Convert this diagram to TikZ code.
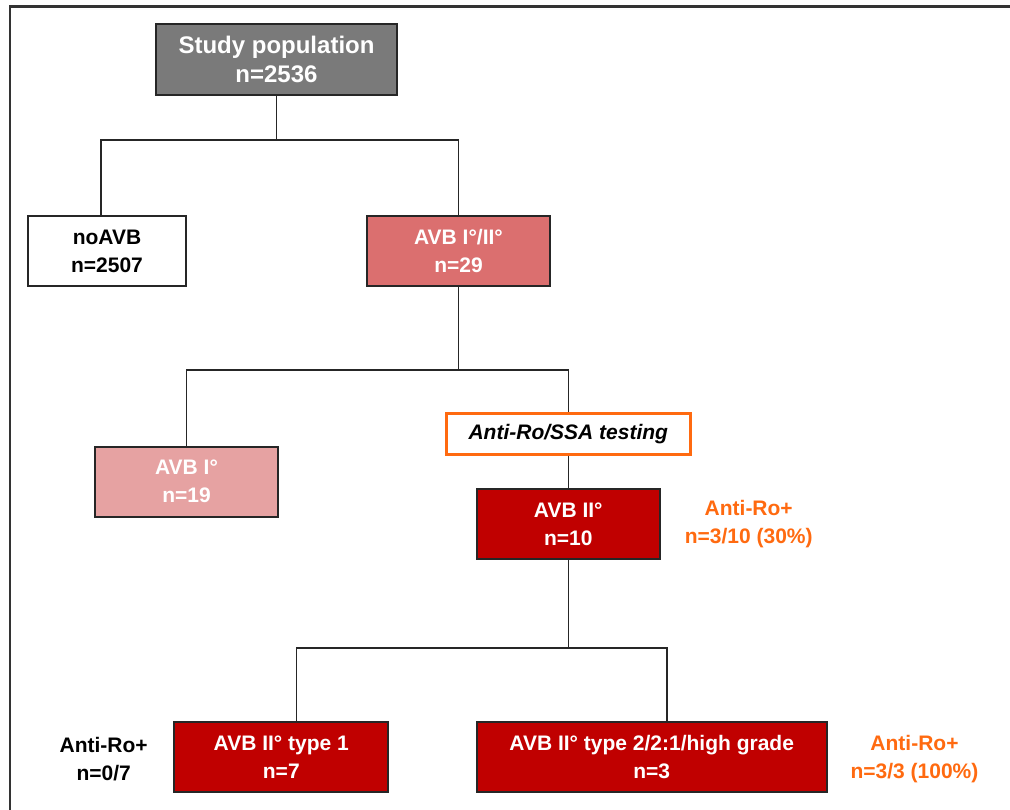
\documentclass[tikz,border=0pt]{standalone}
\usepackage{fontspec}
\setmainfont{Liberation Sans}

\definecolor{popgray}{HTML}{7A7A7A}
\definecolor{avbonetwo}{HTML}{DB6F6F}
\definecolor{avbone}{HTML}{E6A2A2}
\definecolor{avbred}{HTML}{C00000}
\definecolor{roorange}{HTML}{FF6A10}

\tikzset{
  box/.style={draw=black!85,line width=1pt,inner sep=0pt,align=center,
    minimum width=91.5pt,minimum height=35pt,
    font=\bfseries\fontsize{10.5}{14}\selectfont},
  testbox/.style={draw=roorange,line width=1.5pt,fill=white,inner sep=0pt,
    minimum width=121.8pt,minimum height=20.5pt,
    font=\bfseries\itshape\fontsize{10.5}{14}\selectfont},
  note/.style={align=center,inner sep=0pt,
    font=\bfseries\fontsize{10.5}{14}\selectfont},
  link/.style={line width=0.8pt,black!85}
}

\begin{document}
\begin{tikzpicture}[x=0.5pt,y=-0.5pt]
  \useasboundingbox (0,0) rectangle (1010,809);
  % frame, cut by the page edge
  \draw[line width=1.2pt,black!80] (10,830) |- (1030,6.5);

  \node[box,fill=popgray,text=white,minimum width=120.5pt,minimum height=35.5pt,
    font=\bfseries\fontsize{12}{14.5}\selectfont] (study) at (276.5,59.5) {Study population\\n=2536};
  \node[box,fill=white,minimum width=79pt] (noavb) at (107,251) {noAVB\\n=2507};
  \node[box,fill=avbonetwo,text=white] (avb12) at (458.5,251) {AVB I°/II°\\n=29};
  \node[box,fill=avbone,text=white] (avb1) at (186.5,481.5) {AVB I°\\n=19};
  \node[testbox] (test) at (568.3,433.7) {Anti-Ro/SSA testing};
  \node[box,fill=avbred,text=white] (avb2) at (568.3,524) {AVB II°\\n=10};
  \node[note,text=roorange] (ro2) at (748.7,524) {Anti-Ro+\\n=3/10 (30\%)};
  \node[box,fill=avbred,text=white,minimum width=107pt] (type1) at (281.3,757) {AVB II° type 1\\n=7};
  \node[box,fill=avbred,text=white,minimum width=175pt] (type2) at (651.7,757) {AVB II° type 2/2:1/high grade\\n=3};
  \node[note] (ro1) at (103.7,759) {Anti-Ro+\\n=0/7};
  \node[note,text=roorange] (ro3) at (914.5,759) {Anti-Ro+\\n=3/3 (100\%)};

  % branches
  \coordinate (b1) at (276.5,140);
  \coordinate (b2) at (458.5,370);
  \coordinate (b3) at (568.3,648);
  \draw[link] (study.south) -- (b1);
  \draw[link] ([xshift=-3pt]noavb.north) |- (b1) -| (avb12.north);
  \draw[link] (avb12.south) -- (b2);
  \draw[link] (avb1.north) |- (b2) -| (test.north);
  \draw[link] (test.south) -- (avb2.north);
  \draw[link] (avb2.south) -- (b3);
  \draw[link] ([xshift=7.5pt]type1.north) |- (b3) -| ([xshift=7.5pt]type2.north);
\end{tikzpicture}
\end{document}
